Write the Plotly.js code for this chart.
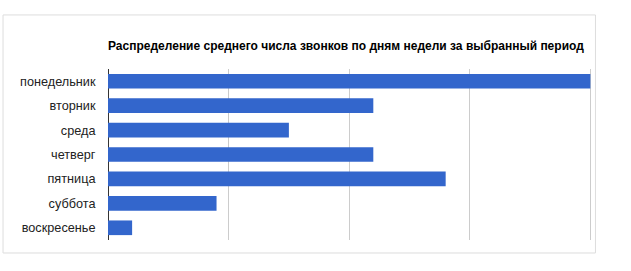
<!DOCTYPE html>
<html><head><meta charset="utf-8">
<script src="https://cdn.plot.ly/plotly-3.0.1.min.js"></script>
<style>body{margin:0;background:#fff}#c{width:631px;height:271px}</style>
</head><body><div id="c"></div>
<script>
const categories = ["понедельник","вторник","среда","четверг","пятница","суббота","воскресенье"];
const values = [40, 22, 15, 22, 28, 9, 2];
const titleText = "Распределение среднего числа звонков по дням недели за выбранный период";

const trace = {
  type: 'bar', orientation: 'h',
  y: categories, x: values,
  marker: {color: '#3366cc'},
  hoverinfo: 'x+y'
};
const layout = {
  width: 631, height: 271,
  margin: {l: 108, r: 37, t: 69, b: 31},
  paper_bgcolor: '#fff', plot_bgcolor: '#fff',
  bargap: 0.4,
  showlegend: false,
  title: {text: titleText, x: 0, xref: 'paper', xanchor: 'left', y: 0.83, yref: 'container', yanchor: 'middle',
    font: {family: 'Liberation Sans, Arial, sans-serif', size: 12, color: '#000', weight: 'bold'}},
  xaxis: {range: [0, 40.3], dtick: 10, showticklabels: false, showgrid: true, gridcolor: '#cccccc', gridwidth: 1,
    zeroline: true, zerolinecolor: '#333333', zerolinewidth: 1, fixedrange: true},
  yaxis: {autorange: 'reversed', tickfont: {family: 'Liberation Sans, Arial, sans-serif', size: 12.7, color: '#222'},
    ticks: 'outside', ticklen: 9, tickcolor: 'rgba(0,0,0,0)', automargin: false, fixedrange: true},
  shapes: [{type: 'rect', xref: 'paper', yref: 'paper', x0: -0.216, x1: 1.003, y0: -0.076, y1: 1.316,
    line: {color: '#dddddd', width: 1}, layer: 'below'}]
};
Plotly.newPlot('c', [trace], layout, {displayModeBar: false, staticPlot: true});
</script></body></html>
